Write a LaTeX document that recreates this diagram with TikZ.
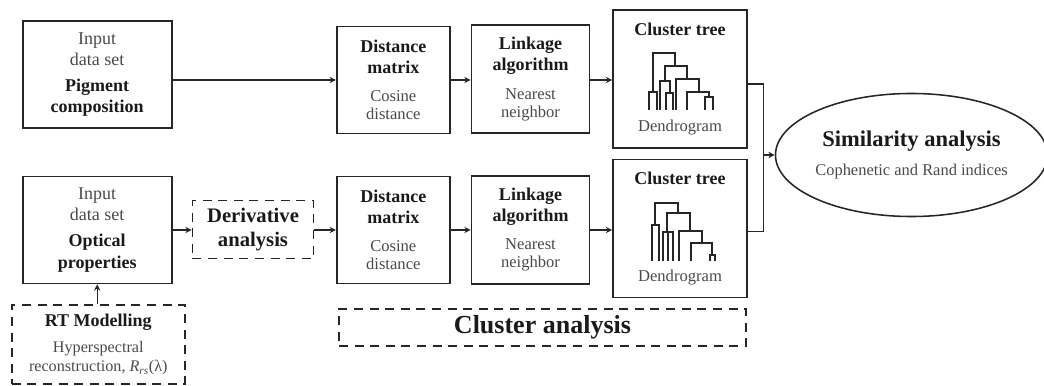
\documentclass[tikz,border=0pt]{standalone}
\usepackage{fontspec}
\setmainfont{Liberation Serif}
\usepackage{tikz}
\usetikzlibrary{calc,shapes.geometric,arrows.meta}
\definecolor{linegray}{HTML}{262626}
\definecolor{txtdark}{HTML}{1A1A1A}
\definecolor{txtgray}{HTML}{4A4A4A}
\newcommand{\gtx}[1]{{\color{txtgray}#1}}
\newcommand{\stx}[1]{{\fontsize{11.8}{14}\selectfont\color{txtgray}#1}}

\begin{document}
\begin{tikzpicture}[x=0.025cm,y=-0.025cm,
	>={Stealth[length=4.5pt,width=4.5pt,inset=1.5pt]},
	box/.style={draw=linegray, line width=1.2pt, align=center, inner sep=0pt, text=txtdark,
		font=\fontsize{12.8}{15}\selectfont},
	dbox/.style={box, dash pattern=on 6.4pt off 4.7pt},
	conn/.style={draw=linegray, line width=0.9pt},
	tree/.style={draw=linegray, line width=1.2pt, line join=miter}]
				\useasboundingbox (0,0) rectangle (1044,386);
				
				% input data
				\node[box, minimum width=3.725cm, minimum height=2.675cm] (pig) at (97.2,74.2)
					{\gtx{Input}\\\gtx{data set}\\[3.5pt]\textbf{Pigment}\\\textbf{composition}};
				\node[box, minimum width=3.725cm, minimum height=2.675cm] (opt) at (97.2,230)
					{\gtx{Input}\\\gtx{data set}\\[3.5pt]\textbf{Optical}\\\textbf{properties}};
				\node[dbox, minimum width=3.025cm, minimum height=1.45cm,
					font=\fontsize{14.7}{16.5}\selectfont\bfseries] (der) at (253,229.5) {Derivative\\analysis};
				\node[dbox, minimum width=4.325cm, minimum height=1.975cm,
					font=\fontsize{11.5}{13.5}\selectfont] (rtm) at (98.3,344.5)
					{{\fontsize{12.8}{15}\selectfont\bfseries RT Modelling}\\[5pt]
					\gtx{Hyperspectral}\\\gtx{reconstruction, \textit{R}\textsubscript{\textit{rs}}(λ)}};
				
				% cluster steps
				\node[box, minimum width=2.825cm, minimum height=2.675cm] (dm1) at (393.3,80)
					{\textbf{Distance}\\\textbf{matrix}\\[5pt]\stx{Cosine}\\[-2pt]\stx{distance}};
				\node[box, minimum width=2.825cm, minimum height=2.675cm] (dm2) at (393.3,230)
					{\textbf{Distance}\\\textbf{matrix}\\[5pt]\stx{Cosine}\\[-2pt]\stx{distance}};
				\node[box, minimum width=2.95cm, minimum height=2.7cm] (la1) at (530.5,79.2)
					{\textbf{Linkage}\\\textbf{algorithm}\\[5pt]\stx{Nearest}\\[-2pt]\stx{neighbor}};
				\node[box, minimum width=2.95cm, minimum height=2.7cm] (la2) at (530.5,229.7)
					{\textbf{Linkage}\\\textbf{algorithm}\\[5pt]\stx{Nearest}\\[-2pt]\stx{neighbor}};
				\node[box, minimum width=3.35cm, minimum height=3.45cm] (ct1) at (680,79.2) {};
				\node[box, minimum width=3.35cm, minimum height=3.45cm] (ct2) at (680,228.5) {};
				\node[text=txtdark, font=\fontsize{12.8}{15}\selectfont\bfseries] (ct1t) at ($(ct1.north)+(0,20)$) {Cluster tree};
				\node[text=txtdark, font=\fontsize{12.8}{15}\selectfont\bfseries] (ct2t) at ($(ct2.north)+(0,20)$) {Cluster tree};
				\node (ct1d) at ($(ct1.south)+(0,-21.5)$) {\stx{Dendrogram}};
				\node (ct2d) at ($(ct2.south)+(0,-21)$) {\stx{Dendrogram}};
				
				\node[ellipse, draw=linegray, line width=1.1pt, inner sep=0pt, minimum width=6.575cm,
					minimum height=3.075cm, align=center, font=\fontsize{11.7}{14}\selectfont] (sim) at (911.5,155)
					{{\fontsize{16}{19}\selectfont\bfseries\color{txtdark}Similarity analysis}\\[6pt]\gtx{Cophenetic and Rand indices}};
				
				\node[dbox, minimum width=10.175cm, minimum height=0.925cm,
					font=\fontsize{18.5}{21}\selectfont\bfseries] (cla) at (542.5,327.5) {Cluster analysis};
				
				% dendrogram top
				\draw[tree] (652.7,91.7) -- (652.7,52.7) -- (675.3,52.7) -- (675.3,66);
				\draw[tree] (649.3,110) -- (649.3,91.7) -- (656.7,91.7) -- (656.7,110);
				\draw[tree] (664.7,80.7) -- (664.7,66) -- (686.7,66) -- (686.7,79.3);
				\draw[tree] (660,110) -- (660,80.7) -- (670,80.7) -- (670,92.7);
				\draw[tree] (666,110) -- (666,92.7) -- (673.3,92.7) -- (673.3,110);
				\draw[tree] (676,110) -- (676,79.3) -- (698.7,79.3) -- (698.7,91.7);
				\draw[tree] (687.3,110) -- (687.3,91.7) -- (709.3,91.7) -- (709.3,97.3);
				\draw[tree] (705.3,110) -- (705.3,97.3) -- (713.3,97.3) -- (713.3,110);
				
				% dendrogram bottom
				\draw[tree] (655,225) -- (655,203.3) -- (678.3,203.3) -- (678.3,212.7);
				\draw[tree] (651.7,261) -- (651.7,225) -- (659,225) -- (659,261);
				\draw[tree] (667,231.7) -- (667,212.7) -- (690.3,212.7) -- (690.3,230.7);
				\draw[tree] (663.3,261) -- (663.3,231.7) -- (673.3,231.7) -- (673.3,261);
				\draw[tree] (668.3,231.7) -- (668.3,261);
				\draw[tree] (679,261) -- (679,230.7) -- (701.7,230.7) -- (701.7,243.3);
				\draw[tree] (691,261) -- (691,243.3) -- (712.3,243.3) -- (712.3,255);
				\draw[tree] (709.7,261) -- (709.7,255) -- (715,255) -- (715,261);
				
				% connectors
				\draw[conn,->] (pig.east |- dm1.west) -- (dm1.west);
				\draw[conn,->] (dm1.east) -- (la1.west |- dm1.east);
				\draw[conn,->] (la1.east |- dm1.east) -- (ct1.west |- dm1.east);
				\draw[conn,->] (opt.east) -- (der.west |- opt.east);
				\draw[conn,->] (der.east |- opt.east) -- (dm2.west |- opt.east);
				\draw[conn,->] (dm2.east) -- (la2.west |- dm2.east);
				\draw[conn,->] (la2.east |- dm2.east) -- (ct2.west |- dm2.east);
				\draw[conn,->] (rtm.north -| opt.south) -- (opt.south);
				\draw[conn] ([yshift=-3.5pt]ct1.east) -- ++(15.7,0) coordinate (m1) |- ([yshift=-2.3pt]ct2.east);
				\coordinate (mrg) at (m1 |- sim.west);
				\draw[conn,->] (mrg) -- (sim.west);
\end{tikzpicture}
\end{document}
